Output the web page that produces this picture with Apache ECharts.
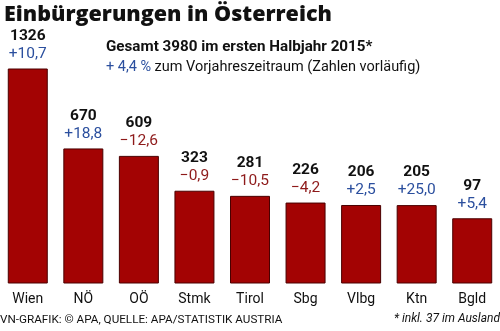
<!DOCTYPE html>
<html><head><meta charset="utf-8">
<script src="https://cdn.jsdelivr.net/npm/echarts@6/dist/echarts.min.js"></script>
<style>html,body{margin:0;padding:0;background:#fff}#c{width:500px;height:331px}</style>
</head><body><div id="c"></div>
<script>
const categories = ['Wien','NÖ','OÖ','Stmk','Tirol','Sbg','Vlbg','Ktn','Bgld'];
const values = [1326, 670, 609, 323, 281, 226, 206, 205, 97];
const changes = [10.7, 18.8, -12.6, -0.9, -10.5, -4.2, 2.5, 25.0, 5.4];

const FONT = 'Roboto';
const Y_MIN = -430, Y_MAX = 1326;
function fmt(c){
  const s = Math.abs(c).toFixed(1).replace('.', ',');
  return c >= 0 ? '+' + s : '\u2212' + s;
}
const rich = {
  v: {fontFamily: FONT, fontWeight: 'bold', fontSize: 15.5, fill: '#111', lineHeight: 18, align: 'center'},
  p: {fontFamily: FONT, fontSize: 15.5, fill: '#2b4f9e', lineHeight: 18, align: 'center'},
  n: {fontFamily: FONT, fontSize: 15.5, fill: '#8e1a1a', lineHeight: 18, align: 'center'}
};
const chart = echarts.init(document.getElementById('c'));
chart.setOption({
  animation: false,
  title: {
    text: 'Einbürgerungen in Österreich',
    left: -1, top: -1,
    textStyle: {fontFamily: 'Open Sans', fontWeight: 800, fontSize: 21.5, color: '#111'}
  },
  grid: {left: -8, top: 69, width: 517.5, bottom: 48, containLabel: false},
  xAxis: {
    type: 'category', data: categories,
    axisLine: {show: false}, axisTick: {show: false},
    axisLabel: {color: '#111', fontFamily: FONT, fontSize: 14, margin: 9}
  },
  yAxis: {type: 'value', min: Y_MIN, max: Y_MAX, show: false, splitLine: {show: false}},
  series: [{
    type: 'custom',
    encode: {x: 0, y: 1},
    data: values.map((v, i) => [i, v]),
    renderItem: (params, api) => {
      const i = api.value(0), v = api.value(1);
      const top = api.coord([i, v]);
      const base = api.coord([i, Y_MIN]);
      const w = 39;
      const c = changes[i];
      return {type: 'group', children: [
        {type: 'rect', shape: {x: top[0] - w / 2, y: top[1], width: w, height: base[1] - top[1]},
          style: {fill: '#a30303', stroke: '#4a0000', lineWidth: 1}},
        {type: 'text', x: top[0], y: top[1] - 6,
          style: {text: '{v|' + values[i] + '}\n' + (c >= 0 ? '{p|' : '{n|') + fmt(c) + '}',
            align: 'center', verticalAlign: 'bottom', rich: rich}}
      ]};
    }
  }],
  graphic: [
    {type: 'text', left: 106, top: 40, style: {text: 'Gesamt 3980 im ersten Halbjahr 2015*', fontFamily: FONT, fontWeight: 'bold', fontSize: 15.2, fill: '#111'}},
    {type: 'text', left: 106, top: 60, style: {
      text: '{b|+ 4,4 %} {r|zum Vorjahreszeitraum (Zahlen vorläufig)}',
      rich: {
        b: {fontFamily: FONT, fontSize: 14.5, fill: '#2b4f9e'},
        r: {fontFamily: FONT, fontSize: 14.5, fill: '#111'}
      }}},
    {type: 'text', left: 0, top: 314, style: {text: 'VN-GRAFIK: © APA, QUELLE: APA/STATISTIK AUSTRIA', fontFamily: FONT, fontSize: 11.7, fill: '#111'}},
    {type: 'text', right: 0, top: 313, style: {text: '* inkl. 37 im Ausland', fontFamily: FONT, fontStyle: 'italic', fontSize: 12, fill: '#111'}}
  ]
});
</script></body></html>
